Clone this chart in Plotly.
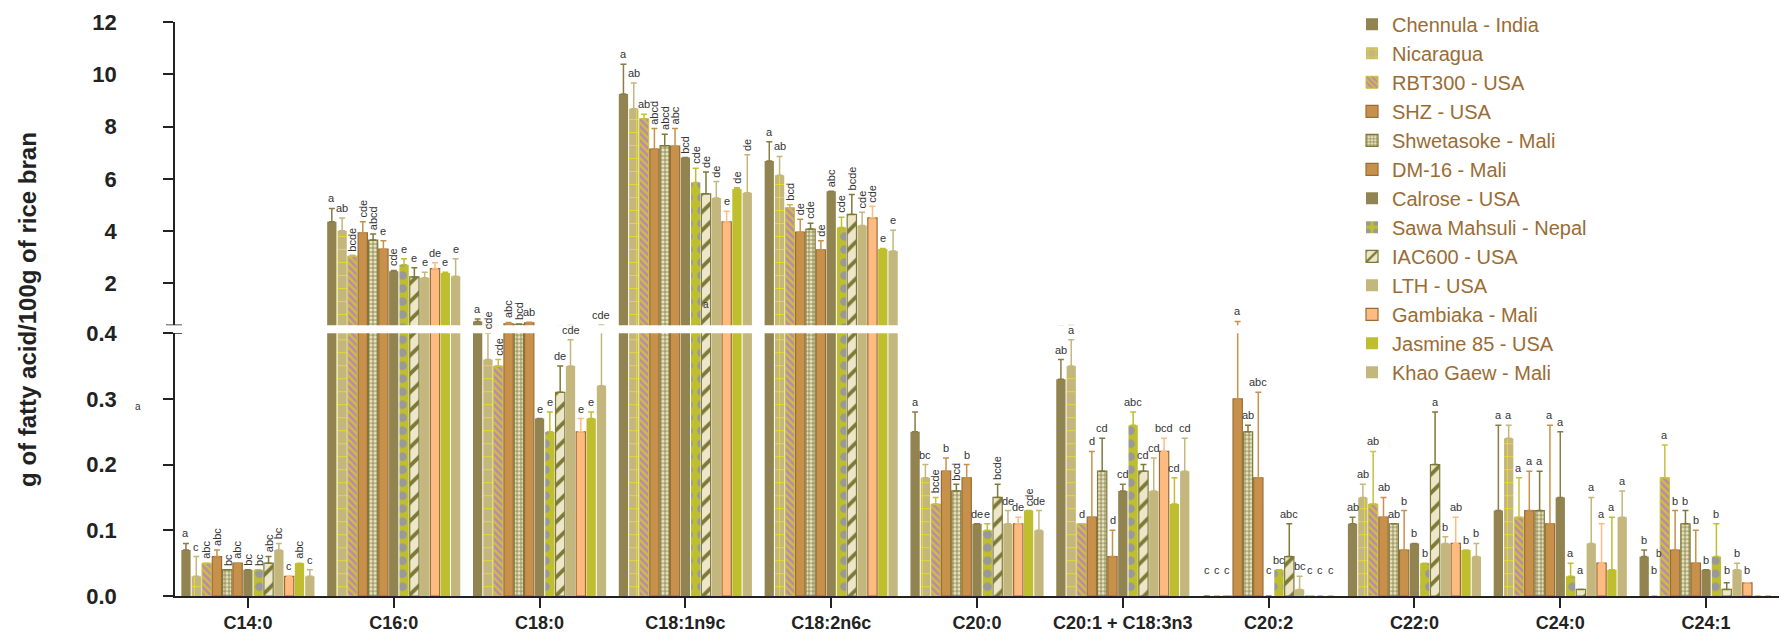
import plotly.graph_objects as go

fatty_acids = ["C14:0", "C16:0", "C18:0", "C18:1n9c", "C18:2n6c", "C20:0",
               "C20:1 + C18:3n3", "C20:2", "C22:0", "C24:0", "C24:1"]

# Mean content, SD (drawn upward) and significance letters for each variety
chennula_mean = [0.07, 4.36, 0.55, 9.25, 6.68, 0.25, 0.33, 0.00, 0.11, 0.13, 0.06]
chennula_sd = [0.01, 0.51, 0.09, 1.13, 0.74, 0.03, 0.03, 0.00, 0.01, 0.13, 0.01]
chennula_ltr = ["a", "a", "a", "a", "a", "a", "ab", "c", "ab", "a", "b"]

nicaragua_mean = [0.03, 4.02, 0.36, 8.68, 6.14, 0.18, 0.35, 0.00, 0.15, 0.24, 0.00]
nicaragua_sd = [0.03, 0.48, 0.04, 0.99, 0.72, 0.02, 0.04, 0.00, 0.02, 0.02, 0.00]
nicaragua_ltr = ["c", "ab", "cde", "ab", "ab", "bc", "a", "c", "ab", "a", "b"]

rbt300_mean = [0.05, 3.05, 0.35, 8.30, 4.90, 0.14, 0.11, 0.00, 0.14, 0.12, 0.18]
rbt300_sd = [0.00, 0.03, 0.01, 0.17, 0.11, 0.01, 0.00, 0.00, 0.08, 0.06, 0.05]
rbt300_ltr = ["abc", "bcde", "cde", "ab", "bcd", "bcde", "d", "c", "ab", "a", "a"]

shz_mean = [0.06, 3.94, 0.46, 7.14, 3.96, 0.19, 0.12, 0.30, 0.12, 0.13, 0.07]
shz_sd = [0.01, 0.42, 0.05, 0.79, 0.50, 0.02, 0.10, 0.25, 0.03, 0.06, 0.06]
shz_ltr = ["abc", "cde", "abc", "abcd", "de", "b", "d", "a", "ab", "a", "b"]

shwetasoke_mean = [0.04, 3.66, 0.44, 7.27, 4.08, 0.16, 0.19, 0.25, 0.11, 0.13, 0.11]
shwetasoke_sd = [0.00, 0.23, 0.01, 0.44, 0.22, 0.01, 0.05, 0.01, 0.00, 0.06, 0.02]
shwetasoke_ltr = ["bc", "abcd", "bcd", "abcd", "cde", "bcd", "cd", "ab", "ab", "a", "b"]

dm16_mean = [0.05, 3.31, 0.49, 7.25, 3.29, 0.18, 0.06, 0.18, 0.07, 0.11, 0.05]
dm16_sd = [0.00, 0.32, 0.03, 0.68, 0.34, 0.02, 0.04, 0.13, 0.06, 0.15, 0.05]
dm16_ltr = ["abc", "e", "ab", "abc", "de", "b", "d", "abc", "b", "a", "b"]

calrose_mean = [0.04, 2.47, 0.27, 6.82, 5.53, 0.11, 0.16, 0.00, 0.08, 0.15, 0.04]
calrose_sd = [0.00, 0.03, 0.00, 0.00, 0.00, 0.00, 0.01, 0.00, 0.00, 0.10, 0.00]
calrose_ltr = ["bc", "cde", "e", "bcd", "abc", "de", "cd", "c", "b", "a", "b"]

sawa_mean = [0.04, 2.72, 0.25, 5.86, 4.14, 0.10, 0.26, 0.04, 0.05, 0.03, 0.06]
sawa_sd = [0.00, 0.23, 0.03, 0.55, 0.39, 0.01, 0.02, 0.00, 0.00, 0.02, 0.05]
sawa_ltr = ["bc", "e", "e", "cde", "cde", "e", "abc", "bc", "b", "a", "b"]

iac600_mean = [0.05, 2.25, 0.31, 5.43, 4.64, 0.15, 0.19, 0.06, 0.20, 0.01, 0.01]
iac600_sd = [0.01, 0.35, 0.04, 0.83, 0.76, 0.02, 0.01, 0.05, 0.08, 0.00, 0.01]
iac600_ltr = ["abc", "e", "de", "de", "bcde", "bcde", "cd", "abc", "a", "a", "b"]

lth_mean = [0.07, 2.22, 0.35, 5.27, 4.22, 0.11, 0.16, 0.01, 0.08, 0.08, 0.04]
lth_sd = [0.01, 0.21, 0.04, 0.63, 0.50, 0.02, 0.05, 0.02, 0.01, 0.07, 0.01]
lth_ltr = ["bc", "e", "cde", "de", "cde", "de", "cd", "bc", "b", "a", "b"]

gambiaka_mean = [0.03, 2.57, 0.25, 4.36, 4.51, 0.11, 0.22, 0.00, 0.08, 0.05, 0.02]
gambiaka_sd = [0.00, 0.22, 0.02, 0.40, 0.44, 0.01, 0.02, 0.00, 0.04, 0.06, 0.00]
gambiaka_ltr = ["c", "de", "e", "e", "cde", "de", "bcd", "c", "ab", "a", "b"]

jasmine_mean = [0.05, 2.40, 0.27, 5.61, 3.32, 0.13, 0.14, 0.00, 0.07, 0.04, 0.00]
jasmine_sd = [0.00, 0.03, 0.01, 0.05, 0.02, 0.00, 0.04, 0.00, 0.00, 0.08, 0.00]
jasmine_ltr = ["abc", "e", "e", "de", "e", "cde", "cd", "c", "b", "a", ""]

khao_mean = [0.03, 2.28, 0.32, 5.47, 3.24, 0.10, 0.19, 0.00, 0.06, 0.12, 0.00]
khao_sd = [0.01, 0.67, 0.09, 1.45, 0.80, 0.03, 0.05, 0.00, 0.02, 0.04, 0.00]
khao_ltr = ["c", "e", "cde", "de", "e", "de", "cd", "c", "b", "a", ""]

varieties = [
    ("Chennula - India", chennula_mean, chennula_sd, chennula_ltr),
    ("Nicaragua", nicaragua_mean, nicaragua_sd, nicaragua_ltr),
    ("RBT300 - USA", rbt300_mean, rbt300_sd, rbt300_ltr),
    ("SHZ - USA", shz_mean, shz_sd, shz_ltr),
    ("Shwetasoke - Mali", shwetasoke_mean, shwetasoke_sd, shwetasoke_ltr),
    ("DM-16 - Mali", dm16_mean, dm16_sd, dm16_ltr),
    ("Calrose - USA", calrose_mean, calrose_sd, calrose_ltr),
    ("Sawa Mahsuli - Nepal", sawa_mean, sawa_sd, sawa_ltr),
    ("IAC600 - USA", iac600_mean, iac600_sd, iac600_ltr),
    ("LTH - USA", lth_mean, lth_sd, lth_ltr),
    ("Gambiaka - Mali", gambiaka_mean, gambiaka_sd, gambiaka_ltr),
    ("Jasmine 85 - USA", jasmine_mean, jasmine_sd, jasmine_ltr),
    ("Khao Gaew - Mali", khao_mean, khao_sd, khao_ltr),
]

# Letters written sideways (variety indices per fatty acid)
upright_letters = {
    "C14:0": [2, 3, 4, 5, 6, 7, 8, 9, 11],
    "C16:0": [2, 3, 4, 6],
    "C18:0": [1, 2, 3, 4],
    "C18:1n9c": [3, 4, 5, 6, 7, 8, 9, 11, 12],
    "C18:2n6c": [2, 3, 4, 5, 6, 7, 8, 9, 10],
    "C20:0": [2, 4, 8, 11],
}

# Letters that sit away from their bars: (text, x-ref, x, y-ref, y)
loose_letters = [
    ("a", "paper", -0.023, "y", 0.288),
    ("a", "x", 3.14, "y2", 1.19),
    ("b", "x", 9.676, "y", 0.064),
]

OLIVE = "#928450"
TAN = "#C4B77D"
ORANGE = "#C8914B"
BROWN = "#9A6C34"
GREEN_Y = "#BEBE2F"
DARK_OLIVE = "#7D7A38"

styles = {
    "Chennula - India": dict(color=OLIVE, line=OLIVE, lw=0, err="#8A7C44", pattern=None),
    "Nicaragua": dict(color=TAN, line=TAN, lw=0, err=TAN,
                      pattern=dict(shape="+", fgcolor="#F4E800", size=13, solidity=0.1)),
    "RBT300 - USA": dict(color="#C9C043", line="#C9C043", lw=1, err="#C9C043",
                         pattern=dict(shape="\\", fgcolor="#BE86B0", size=5, solidity=0.5)),
    "SHZ - USA": dict(color=ORANGE, line=BROWN, lw=1.2, err=ORANGE, pattern=None),
    "Shwetasoke - Mali": dict(color="#E8E2C4", line=DARK_OLIVE, lw=1.2, err=DARK_OLIVE,
                              pattern=dict(shape="+", fgcolor=DARK_OLIVE, size=4, solidity=0.35)),
    "DM-16 - Mali": dict(color=ORANGE, line=BROWN, lw=1.2, err=ORANGE, pattern=None),
    "Calrose - USA": dict(color=OLIVE, line=OLIVE, lw=0, err="#8A7C44", pattern=None),
    "Sawa Mahsuli - Nepal": dict(color=GREEN_Y, line=GREEN_Y, lw=0, err=GREEN_Y,
                                 pattern=dict(shape=".", fgcolor="#999999", size=13, solidity=0.35)),
    "IAC600 - USA": dict(color="#EDE6C8", line=DARK_OLIVE, lw=1.2, err=DARK_OLIVE,
                         pattern=dict(shape="/", fgcolor=DARK_OLIVE, size=13, solidity=0.3)),
    "LTH - USA": dict(color=TAN, line=TAN, lw=0, err=TAN, pattern=None),
    "Gambiaka - Mali": dict(color="#FDBB80", line=BROWN, lw=1.2, err="#FDBB80", pattern=None),
    "Jasmine 85 - USA": dict(color=GREEN_Y, line=GREEN_Y, lw=0, err=GREEN_Y, pattern=None),
    "Khao Gaew - Mali": dict(color=TAN, line=TAN, lw=0, err=TAN, pattern=None),
}

FONT = "Liberation Sans, Arial, sans-serif"
BARGAP = 0.08
LOW_TOP = 0.4
x_pos = list(range(len(fatty_acids)))

fig = go.Figure()

for axis_name, show in (("y2", True), ("y", False)):
    for name, mean, sd, _ in varieties:
        st = styles[name]
        marker = dict(color=st["color"], line=dict(color=st["line"], width=st["lw"]))
        if st["pattern"] is not None:
            marker["pattern"] = dict(fillmode="replace", bgcolor=st["color"], **st["pattern"])
        fig.add_trace(go.Bar(
            x=x_pos, y=mean, name=name, yaxis=axis_name, xaxis="x",
            marker=marker, showlegend=show, legendgroup=name,
            error_y=dict(type="data", symmetric=False,
                         array=[s if s > 0 else None for s in sd],
                         arrayminus=[0] * len(sd),
                         color=st["err"], thickness=1.5, width=3),
            hoverinfo="skip",
        ))

# Significance letters above the bars
annotations = []
n = len(varieties)
slot = (1 - BARGAP) / n
for ci, fa in enumerate(fatty_acids):
    upright = upright_letters.get(fa, [])
    for vi, (name, mean, sd, ltr) in enumerate(varieties):
        text = ltr[ci]
        if not text:
            continue
        top = mean[ci] + sd[ci]
        top = max(top, 0.025)
        xref_val = ci - (1 - BARGAP) / 2 + (vi + 0.5) * slot
        yref = "y2" if top > LOW_TOP else "y"
        annotations.append(dict(
            x=xref_val, y=top, xref="x", yref=yref, text=text, showarrow=False,
            xanchor="center", yanchor="bottom", yshift=2,
            textangle=-90 if vi in upright else 0,
            font=dict(family=FONT, size=11, color="#333333"),
        ))

for text, xr, xv, yr, yv in loose_letters:
    annotations.append(dict(x=xv, y=yv, xref=xr, yref=yr, text=text, showarrow=False,
                            xanchor="center", yanchor="middle",
                            font=dict(family=FONT, size=10, color="#333333")))

annotations.append(dict(
    x=-0.0923, y=0.50, xref="paper", yref="paper",
    text="<b>g of fatty acid/100g of rice bran</b>", showarrow=False, textangle=-90,
    xanchor="center", yanchor="middle",
    font=dict(family=FONT, size=24, color="#222222"),
))

axis_common = dict(showline=True, linecolor="#222222", linewidth=1.5, ticks="outside",
                   ticklen=10, tickwidth=1.5, tickcolor="#222222", showgrid=False,
                   zeroline=False)

# Break marks across the y axis where the two ranges meet
shapes = []
for yr in ("y", "y2"):
    shapes.append(dict(type="line", xref="paper", yref=yr, x0=-9 / 1604, x1=7 / 1604,
                       y0=0.4, y1=0.4, line=dict(color="#222222", width=1.5)))

fig.update_layout(
    width=1781, height=635,
    margin=dict(l=175, r=2, t=22, b=32),
    paper_bgcolor="white", plot_bgcolor="white",
    barmode="group", bargap=BARGAP, bargroupgap=0.1,
    font=dict(family=FONT, color="#222222"),
    xaxis=dict(range=[-0.5, len(fatty_acids) - 0.5], tickvals=x_pos,
               ticktext=[f"<b>{f}</b>" for f in fatty_acids], anchor="y",
               tickfont=dict(family=FONT, size=18, color="#222222"), **axis_common),
    yaxis=dict(domain=[0, 0.4578], range=[0, LOW_TOP],
               tickvals=[0, 0.1, 0.2, 0.3, 0.4],
               ticktext=["<b>0.0</b>", "<b>0.1</b>", "<b>0.2</b>", "<b>0.3</b>", "<b>0.4</b>"],
               ticklabelstandoff=42, anchor="x",
               tickfont=dict(family=FONT, size=22, color="#222222"), **axis_common),
    yaxis2=dict(domain=[0.4716, 1], range=[LOW_TOP, 12],
                tickvals=[2, 4, 6, 8, 10, 12],
                ticktext=[f"<b>{v}</b>" for v in (2, 4, 6, 8, 10, 12)],
                ticklabelstandoff=42, anchor="x",
                tickfont=dict(family=FONT, size=22, color="#222222"), **axis_common),
    legend=dict(x=0.7338, xanchor="left", y=1.03, yanchor="top", maxheight=520,
                font=dict(family=FONT, size=20, color="#9A6C34"),
                bgcolor="rgba(0,0,0,0)", tracegroupgap=0, traceorder="normal"),
    annotations=annotations,
    shapes=shapes,
)

fig.write_html("out.html")
